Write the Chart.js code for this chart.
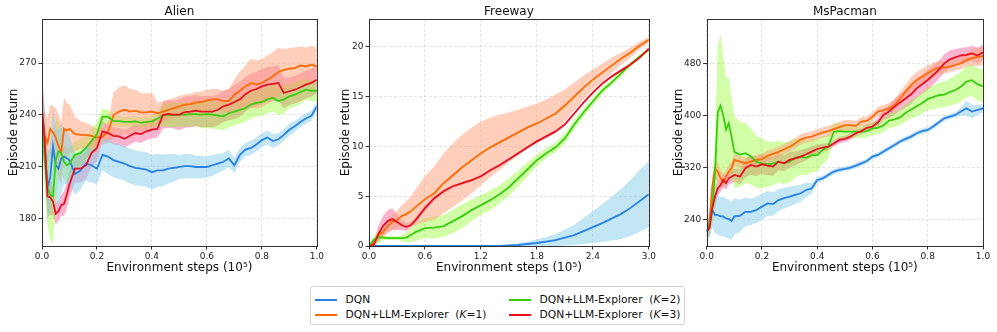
<!DOCTYPE html>
<html>
<head>
<meta charset="utf-8">
<script src="https://cdn.jsdelivr.net/npm/chart.js@4.4.1/dist/chart.umd.min.js"></script>
<style>
  body { margin: 0; background: #fff; width: 997px; height: 332px; position: relative; overflow: hidden; font-family: "DejaVu Sans", sans-serif; }
  canvas { position: absolute; top: 0; }
  #legend { position: absolute; left: 310px; top: 286px; width: 375px; height: 39px; border: 1px solid #d4d4d4; border-radius: 3px; box-sizing: border-box; font-size: 10.7px; color: #111; }
  .item { position: absolute; white-space: nowrap; line-height: 13px; }
  .swatch { position: absolute; width: 22px; height: 2px; }
</style>
</head>
<body>
<canvas id="alien" width="326" height="282" style="left:0px"></canvas>
<canvas id="freeway" width="328" height="282" style="left:330px"></canvas>
<canvas id="mspacman" width="330" height="282" style="left:663px"></canvas>
<div id="legend"></div>
<script>
const FONT = "DejaVu Sans";

const seriesNames = ["DQN", "DQN+LLM-Explorer  (K=1)", "DQN+LLM-Explorer  (K=2)", "DQN+LLM-Explorer  (K=3)"];
const lineColors = ["#2b80e6", "#ff6a00", "#3acc10", "#e6101e"];
const bandColors = ["rgba(135,206,235,0.5)", "rgba(255,160,122,0.5)", "rgba(124,252,0,0.35)", "rgba(240,40,120,0.35)"];

// x positions (10^5 steps) shared by Alien and MsPacman
const stepsShort = [0, 0.01, 0.02, 0.03, 0.04, 0.05, 0.06, 0.07, 0.08, 0.09, 0.10,
  0.12, 0.14, 0.16, 0.18, 0.20, 0.22, 0.24, 0.26, 0.28, 0.30, 0.32, 0.34, 0.36, 0.38, 0.40,
  0.42, 0.44, 0.46, 0.48, 0.50, 0.52, 0.54, 0.56, 0.58, 0.60, 0.62, 0.64, 0.66, 0.68, 0.70,
  0.72, 0.74, 0.76, 0.78, 0.80, 0.82, 0.84, 0.86, 0.88, 0.90, 0.92, 0.94, 0.96, 0.98, 1.0];
const stepsTicks = [0, 0.2, 0.4, 0.6, 0.8, 1.0];

// ---- Alien ----
const alienDqn = [240, 222, 198, 204, 222, 211, 209, 215, 216, 215, 214,
  206, 208, 212, 211, 209, 217, 216, 214, 213, 212, 210.5, 209.5, 209, 208.5, 207,
  208, 208, 209, 209.5, 210, 210.5, 210.5, 210, 210, 210, 211, 212, 213, 215, 211,
  217, 220, 221, 223, 225.5, 227, 225, 226, 228.5, 231.5, 233.5, 236, 238, 239.5, 245];
const alienDqnBand = [15, 18, 18, 20, 22, 22, 22, 20, 16, 15, 14,
  12, 11, 10, 10, 9, 9, 10, 10, 10, 10, 10, 10, 10, 10, 10,
  9.5, 9, 8.5, 8, 7, 7, 7, 6.5, 6.5, 6, 6, 5.5, 5, 5, 4.5,
  4, 4, 4, 4, 4, 4, 4, 3.5, 3.5, 3.5, 3, 3, 3, 3, 3];
const alienK1 = [243, 228, 224, 232, 230, 227, 222, 218, 232, 231, 232,
  229, 228.5, 228.5, 228, 227, 227.5, 230, 240, 242, 243, 242, 242.5, 241.5, 241.5, 242,
  241, 242, 243, 244, 245, 246, 246.3, 247.3, 247.5, 248.5, 249, 249, 248, 248, 251.7,
  254, 256.5, 258.5, 257.5, 258.5, 260.4, 262.3, 264.8, 266, 266.7, 267, 268.6, 268, 269, 268];
const alienK1Band = [18, 15, 14, 14, 15, 17, 18, 18, 18, 16, 14,
  10, 8, 7, 6, 5, 5, 6, 13, 14, 14, 13, 12, 11, 11, 11,
  6, 6, 6, 6, 6, 6, 6, 6, 6, 6, 6, 6, 6, 7, 9,
  11, 12, 14, 14, 14, 14, 14, 14, 12, 12, 12, 11, 11, 11, 11];
const alienK2 = [240, 215, 198, 194, 193, 214, 219, 218, 213, 211, 212,
  217, 218, 221, 225, 229, 239, 239, 236.5, 236.5, 236, 236, 236.3, 235.5, 236, 236.3,
  238, 239.8, 240, 240, 240.2, 240.2, 240.5, 240.5, 240.2, 240.5, 240.2, 239.6, 239.2, 241, 242,
  243, 244, 246, 247, 247.5, 249, 250, 248, 249, 250.8, 251.7, 253.3, 254.6, 254, 254];
const alienK2Band = [20, 20, 22, 25, 28, 25, 18, 12, 10, 10, 9,
  8, 8, 7, 7, 7, 5, 4, 3, 3, 3, 3, 3, 3, 3, 3,
  5, 6, 7, 7, 7, 7, 7, 7, 8, 8, 8, 8, 8, 8, 8,
  8, 8, 8, 8, 8, 8, 8, 8, 8, 7, 7, 7, 6, 6, 6];
const alienK3 = [243, 225, 193, 192.5, 190, 183, 184.5, 188, 188.7, 194, 200,
  209, 209, 211, 218, 221, 230.6, 229.6, 228, 227.7, 226.3, 228, 229.6, 229, 230.6, 231.5,
  232, 240, 240.6, 240.2, 240.2, 241.7, 242, 242.5, 242, 242, 242, 243, 245, 246, 247.5,
  249, 252, 254, 255, 256.5, 257.5, 258, 258.5, 252.7, 253.7, 254.6, 256, 257.5, 258.5, 260.4];
const alienK3Band = [20, 18, 12, 10, 8, 6, 6, 6, 7, 8, 8,
  8, 8, 8, 8, 8, 6, 5, 5, 5, 5, 5, 5, 5, 5, 5,
  5, 8, 8, 8, 9, 9, 9, 9, 9, 9, 9, 9, 9, 9, 10,
  10, 10, 10, 10, 10, 10, 10, 10, 9, 8, 8, 8, 8, 8, 8];
const alienYTicks = [180, 210, 240, 270];

// ---- Freeway ----
const freewaySteps = [0, 0.05, 0.1, 0.15, 0.2, 0.25, 0.3, 0.35, 0.4, 0.45, 0.5,
  0.6, 0.7, 0.8, 0.9, 1.0, 1.1, 1.2, 1.3, 1.4, 1.5, 1.6, 1.7, 1.8, 1.9, 2.0,
  2.1, 2.2, 2.3, 2.4, 2.5, 2.6, 2.7, 2.8, 2.9, 3.0];
const freewayDqn = [0, 0, 0, 0, 0, 0, 0, 0, 0, 0, 0,
  0, 0, 0, 0, 0, 0, 0, 0, 0, 0.05, 0.1, 0.2, 0.3, 0.45, 0.6,
  0.85, 1.1, 1.5, 1.9, 2.3, 2.75, 3.2, 3.8, 4.5, 5.2];
const freewayDqnBand = [0.05, 0.05, 0.05, 0.05, 0.05, 0.05, 0.05, 0.05, 0.05, 0.05, 0.05,
  0.05, 0.05, 0.05, 0.05, 0.05, 0.05, 0.05, 0.05, 0.05, 0.1, 0.15, 0.25, 0.35, 0.45, 0.6,
  0.8, 1.0, 1.3, 1.6, 1.9, 2.2, 2.5, 2.8, 3.1, 3.3];
const freewayK1 = [0, 0.3, 1.1, 1.4, 2.0, 2.4, 2.6, 3.0, 3.2, 3.5, 3.9,
  4.7, 5.3, 6.3, 7.1, 7.9, 8.6, 9.3, 9.9, 10.4, 10.9, 11.4, 11.9, 12.3, 12.8, 13.3,
  14.1, 15.0, 15.9, 16.7, 17.4, 18.1, 18.8, 19.4, 20.1, 20.7];
const freewayK1Band = [0, 0.3, 0.5, 0.6, 0.7, 0.8, 0.9, 1.1, 1.3, 1.5, 1.8,
  2.3, 2.7, 3.0, 3.2, 3.3, 3.3, 3.2, 3.0, 2.8, 2.5, 2.3, 2.1, 2.0, 1.9, 1.9,
  1.6, 1.4, 1.2, 1.0, 0.9, 0.8, 0.6, 0.5, 0.4, 0.3];
const freewayK2 = [0, 0.6, 0.9, 0.85, 0.8, 0.8, 0.8, 0.8, 0.85, 1.1, 1.4,
  1.8, 1.85, 2.0, 2.5, 3.0, 3.6, 4.1, 4.6, 5.2, 5.9, 6.8, 7.7, 8.6, 9.3, 9.9,
  10.8, 12.2, 13.4, 14.5, 15.6, 16.4, 17.3, 18.2, 19.0, 19.7];
const freewayK2Band = [0, 0.4, 0.6, 0.3, 0.2, 0.2, 0.2, 0.3, 0.5, 0.7, 0.9,
  1.0, 1.1, 1.1, 1.2, 1.2, 1.1, 1.0, 1.0, 0.9, 0.9, 0.8, 0.7, 0.6, 0.5, 0.5,
  0.5, 0.5, 0.4, 0.4, 0.35, 0.3, 0.3, 0.25, 0.2, 0.2];
const freewayK3 = [0, 0.1, 1.2, 2.0, 2.5, 2.7, 2.4, 2.1, 1.9, 2.1, 2.6,
  3.8, 4.8, 5.5, 6.0, 6.3, 6.6, 7.0, 7.6, 8.1, 8.7, 9.3, 9.9, 10.5, 11.0, 11.5,
  12.2, 13.3, 14.4, 15.4, 16.3, 17.0, 17.6, 18.2, 18.9, 19.8];
const freewayK3Band = [0, 0.2, 0.8, 1.0, 1.1, 1.1, 0.8, 0.5, 0.4, 0.3, 0.3,
  0.3, 0.25, 0.2, 0.15, 0.15, 0.15, 0.15, 0.15, 0.15, 0.15, 0.15, 0.15, 0.15, 0.15, 0.15,
  0.15, 0.15, 0.15, 0.15, 0.15, 0.15, 0.15, 0.15, 0.15, 0.15];
const freewayXTicks = [0, 0.6, 1.2, 1.8, 2.4, 3.0];
const freewayYTicks = [0, 5, 10, 15, 20];

// ---- MsPacman ----
const pacDqn = [222, 232, 255, 247, 247, 245, 245, 242, 241, 238, 245,
  246, 252, 252, 255, 260, 265, 264, 270, 273, 275.4, 278, 280.5, 285.6, 288, 301,
  303.5, 308.6, 313.8, 316.3, 317.8, 320, 323, 326.5, 330, 336.8, 339.3, 344.5, 349.6, 354.7, 360,
  364, 367.5, 372.6, 376, 377.7, 383, 389.5, 395.6, 398, 400.7, 406, 411, 406, 408.4, 411];
const pacDqnBand = [15, 20, 25, 28, 30, 30, 30, 30, 30, 29, 28,
  25, 22, 20, 20, 20, 19, 18, 17, 16, 15, 14, 13, 11, 8, 5,
  4, 4, 4, 4, 4, 4, 4, 4, 4, 4, 4, 4, 4, 4, 4,
  4, 4, 4, 4, 4, 4, 4, 4, 4, 4, 6, 12, 10, 8, 6];
const pacK1 = [222, 235, 290, 318, 314, 303.5, 298, 306, 314, 319, 331.7,
  329, 326.5, 329, 331.7, 333, 338, 341, 344, 348, 352, 357, 363, 366, 367.5, 371,
  374, 376, 379, 382, 385, 385, 384, 390.5, 391.5, 398, 406, 408, 411, 416, 426,
  436.5, 446.8, 454.4, 459.5, 464.7, 469.8, 473.4, 473.4, 475, 477.4, 480, 485, 488, 490, 491];
const pacK1Band = [10, 12, 15, 15, 15, 14, 12, 10, 10, 10, 10,
  9, 8, 8, 8, 8, 8, 8, 8, 8, 8, 8, 8, 8, 8, 8,
  8, 8, 8, 8, 8, 8, 8, 7, 7, 7, 7, 8, 8, 9, 10,
  11, 12, 12, 12, 12, 11, 10, 9, 9, 8, 9, 10, 12, 14, 14];
const pacK2 = [222, 230, 260, 310, 405, 415, 400, 378, 388, 367, 344,
  340, 342, 337, 329, 326.5, 325, 326, 329, 326.5, 329, 335, 336.8, 335, 339, 339,
  347, 352, 375, 376, 375, 375, 375, 375, 376, 380, 381, 385, 392, 394, 397,
  404, 409, 414, 419, 425, 428, 431, 432, 436, 439, 444, 452, 454, 448, 445];
const pacK2Band = [10, 15, 30, 60, 100, 110, 90, 80, 70, 62, 55,
  50, 46, 43, 40, 38, 35, 33, 32, 32, 32, 30, 28, 27, 26, 25,
  22, 18, 14, 12, 11, 10, 10, 10, 10, 10, 10, 11, 11, 12, 12,
  13, 14, 15, 16, 17, 18, 19, 20, 21, 22, 23, 24, 24, 25, 25];
const pacK3 = [222, 227, 257.5, 275.4, 288, 293, 301, 296, 303.5, 306, 308.6,
  306, 319, 324, 321.5, 325, 323, 321.5, 329, 326.5, 331.7, 334, 336.8, 340.4, 344.5, 348.5,
  350.6, 352, 357, 362.4, 364, 367.5, 372.6, 376, 381, 383, 389.5, 400.7, 406, 413.5, 420,
  426, 432.4, 441.6, 447.8, 454.4, 462, 469.8, 480, 486, 489, 492, 492.8, 495.3, 492, 497];
const pacK3Band = [10, 12, 15, 15, 12, 10, 10, 10, 10, 10, 10,
  12, 14, 15, 15, 15, 15, 14, 13, 12, 12, 11, 10, 9, 8, 7,
  6, 6, 5, 5, 5, 5, 5, 5, 6, 6, 7, 8, 10, 12, 13,
  14, 15, 15, 15, 15, 15, 14, 14, 14, 13, 12, 12, 12, 12, 12];
const pacYTicks = [240, 320, 400, 480];

// frame around the plot area, like matplotlib spines
const frame = {
  id: "frame",
  afterDraw(chart) {
    const a = chart.chartArea, ctx = chart.ctx;
    ctx.save();
    ctx.strokeStyle = "#333";
    ctx.lineWidth = 1;
    ctx.strokeRect(Math.round(a.left) + 0.5, Math.round(a.top) + 0.5, Math.round(a.right - a.left), Math.round(a.bottom - a.top));
    ctx.restore();
  }
};

function makePanel(id, title, xs, means, bands, xTicks, yTicks, xMax, yMin, yMax, p) {
  const datasets = [];
  means.forEach((m, i) => {
    datasets.push({ data: xs.map((x, j) => ({ x, y: m[j] - bands[i][j] })), borderColor: "rgba(0,0,0,0)", borderWidth: 1, pointRadius: 0, fill: false, order: 20 + i });
    datasets.push({ data: xs.map((x, j) => ({ x, y: m[j] + bands[i][j] })), borderColor: "rgba(0,0,0,0)", borderWidth: 1, pointRadius: 0, fill: "-1", backgroundColor: bandColors[i], order: 20 + i });
  });
  means.forEach((m, i) => {
    datasets.push({ label: seriesNames[i], data: xs.map((x, j) => ({ x, y: m[j] })), borderColor: lineColors[i], borderWidth: 1.8, pointRadius: 0, fill: false, order: 3 - i });
  });

  const tickFont = { family: FONT, size: 9 };
  const grid = { color: "rgba(0,0,0,0.11)", tickColor: "#333", tickLength: 3.5, tickWidth: 1, tickBorderDash: [] };

  new Chart(document.getElementById(id), {
    type: "line",
    data: { datasets },
    plugins: [frame],
    options: {
      responsive: false,
      animation: false,
      layout: { padding: { left: 0, right: p.right, top: 0, bottom: 0 } },
      plugins: {
        legend: { display: false },
        tooltip: { enabled: false },
        title: { display: true, text: title, fullSize: false, color: "#111", font: { family: FONT, size: 12, weight: "normal" }, padding: { top: 4.4, bottom: 0.2 } }
      },
      scales: {
        x: {
          type: "linear", min: 0, max: xMax,
          afterBuildTicks: s => { s.ticks = xTicks.map(v => ({ value: v })); },
          afterFit: s => { s.height = 36; },
          ticks: { font: tickFont, color: "#222", padding: 2, maxRotation: 0, autoSkip: false, callback: v => v.toFixed(1) },
          grid,
          border: { display: false, dash: [3, 2] },
          title: { display: true, text: "Environment steps (10⁵)", color: "#111", font: { family: FONT, size: 12 }, padding: { top: 0, bottom: 6.8 } }
        },
        y: {
          type: "linear", min: yMin, max: yMax,
          afterBuildTicks: s => { s.ticks = yTicks.map(v => ({ value: v })); },
          afterFit: s => { s.width = p.yWidth; },
          ticks: { font: tickFont, color: "#222", padding: 2, callback: v => String(v) },
          grid,
          border: { display: false, dash: [3, 2] },
          title: { display: true, text: "Episode return", color: "#111", font: { family: FONT, size: 12 }, padding: { top: p.yTitlePad, bottom: 0 } }
        }
      }
    }
  });
}

makePanel("alien", "Alien", stepsShort,
  [alienDqn, alienK1, alienK2, alienK3], [alienDqnBand, alienK1Band, alienK2Band, alienK3Band],
  stepsTicks, alienYTicks, 1.0, 164.4, 295.4, { yWidth: 42, right: 8, yTitlePad: 6.3 });
makePanel("freeway", "Freeway", freewaySteps,
  [freewayDqn, freewayK1, freewayK2, freewayK3], [freewayDqnBand, freewayK1Band, freewayK2Band, freewayK3Band],
  freewayXTicks, freewayYTicks, 3.0, 0, 22.78, { yWidth: 39, right: 7, yTitlePad: 8.8 });
makePanel("mspacman", "MsPacman", stepsShort,
  [pacDqn, pacK1, pacK2, pacK3], [pacDqnBand, pacK1Band, pacK2Band, pacK3Band],
  stepsTicks, pacYTicks, 1.0, 199.6, 548, { yWidth: 43.7, right: 10, yTitlePad: 8.8 });

// legend, two columns like the reference (column-wise fill)
const legend = document.getElementById("legend");
const legendSlots = [[4, 12.5], [4, 27.5], [198, 12.5], [198, 27.5]];
seriesNames.forEach((name, i) => {
  const [lx, ly] = legendSlots[i];
  const sw = document.createElement("div");
  sw.className = "swatch";
  sw.style.cssText = `left:${lx}px;top:${ly - 1}px;background:${lineColors[i]}`;
  legend.appendChild(sw);
  const txt = document.createElement("div");
  txt.className = "item";
  txt.style.cssText = `left:${lx + 30.5}px;top:${ly - 7}px`;
  txt.innerHTML = name.replace("K=", "<i>K</i>=").replace(/  /g, "&nbsp;&nbsp;");
  legend.appendChild(txt);
});
</script>
</body>
</html>
